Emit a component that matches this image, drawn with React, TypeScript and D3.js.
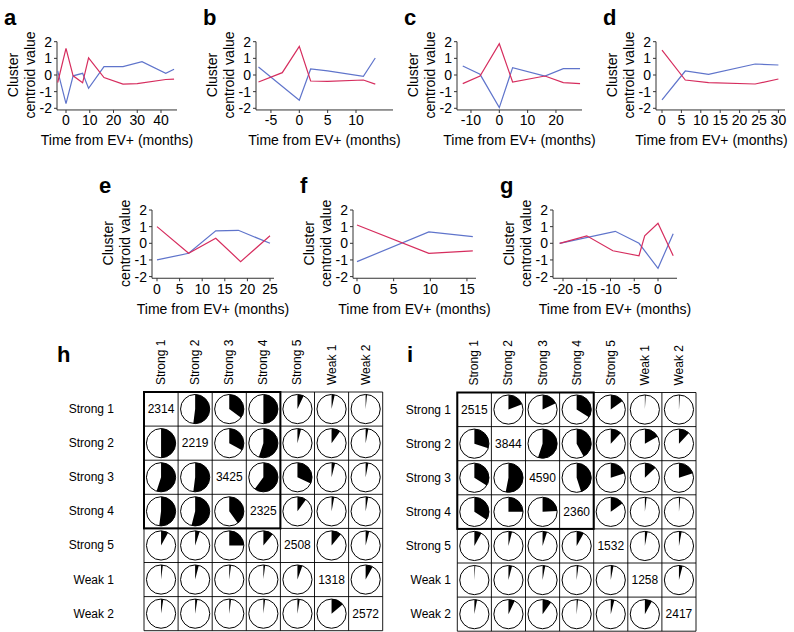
import React from 'react';
import * as d3 from 'd3';

type Pt = [number, number];

// ---- Line panel data: [time (months), cluster centroid value] ----
const aRed: Pt[] = [[-3.5, -0.45], [0, 1.6], [3, -0.05], [7, -0.47], [9.5, 1.03], [16, -0.15], [24, -0.55], [30, -0.52], [42, -0.27], [45.5, -0.25]];
const aBlue: Pt[] = [[-3.5, 0.25], [0, -1.72], [3, -0.05], [7, 0.1], [9.5, -0.8], [16, 0.5], [24, 0.5], [32, 0.8], [42, 0.1], [45.5, 0.35]];
const bRed: Pt[] = [[-7.2, -0.42], [-3, 0.14], [0, 1.72], [2, -0.36], [5, -0.38], [11.3, -0.3], [13.4, -0.55]];
const bBlue: Pt[] = [[-7.2, 0.48], [0, -1.52], [2, 0.36], [5, 0.25], [11.3, -0.08], [13.4, 1.02]];
const cRed: Pt[] = [[-12.9, -0.52], [-6.8, -0.06], [0, 1.88], [4.7, -0.42], [16.1, -0.06], [22.6, -0.46], [28.5, -0.52]];
const cBlue: Pt[] = [[-12.9, 0.54], [-6.8, 0.04], [0, -1.96], [4.7, 0.44], [16.1, -0.06], [22.6, 0.38], [28.5, 0.38]];
const dRed: Pt[] = [[0, 1.5], [6, -0.3], [12, -0.46], [24, -0.54], [30, -0.24]];
const dBlue: Pt[] = [[0, -1.5], [6, 0.24], [12, 0.04], [24, 0.66], [30, 0.6]];
const eRed: Pt[] = [[0, 1.0], [7, -0.6], [13, 0.3], [18.5, -1.1], [25, 0.45]];
const eBlue: Pt[] = [[0, -1.0], [7, -0.6], [13, 0.75], [18, 0.78], [25, 0.0]];
const fRed: Pt[] = [[0, 1.1], [9.8, -0.6], [15.8, -0.45]];
const fBlue: Pt[] = [[0, -1.1], [9.8, 0.68], [15.8, 0.4]];
const gRed: Pt[] = [[-20.7, 0], [-15, 0.45], [-9.5, -0.45], [-4, -0.75], [-2.8, 0.45], [0, 1.2], [3.2, -0.75]];
const gBlue: Pt[] = [[-20.7, 0], [-9, 0.72], [-4, 0], [0, -1.5], [3.2, 0.58]];

const yTicks = [-2, -1, 0, 1, 2];
const aTicks = [0, 10, 20, 30, 40];
const bTicks = [-5, 0, 5, 10];
const cTicks = [-10, 0, 10, 20];
const dTicks = [0, 5, 10, 15, 20, 25, 30];
const eTicks = [0, 5, 10, 15, 20, 25];
const fTicks = [0, 5, 10, 15];
const gTicks = [-20, -15, -10, -5, 0];

// ---- Matrix data ----
const clusterNames = ['Strong 1', 'Strong 2', 'Strong 3', 'Strong 4', 'Strong 5', 'Weak 1', 'Weak 2'];
const hCounts = [2314, 2219, 3425, 2325, 2508, 1318, 2572];
const iCounts = [2515, 3844, 4590, 2360, 1532, 1258, 2417];
const hShares: (number | null)[][] = [
  [null, 0.52, 0.35, 0.5, 0.07, 0.035, 0.015],
  [0.5, null, 0.33, 0.55, 0.04, 0.1, 0.03],
  [0.55, 0.52, null, 0.6, 0.32, 0.04, 0.03],
  [0.52, 0.54, 0.4, null, 0.1, 0.03, 0.028],
  [0.08, 0.05, 0.25, 0.11, null, 0.11, 0.04],
  [0.02, 0.04, 0.02, 0.02, 0.055, null, 0.08],
  [0.025, 0.025, 0.02, 0.02, 0.025, 0.14, null],
];
const iShares: (number | null)[][] = [
  [null, 0.19, 0.18, 0.34, 0.15, 0.01, 0.01],
  [0.3, null, 0.55, 0.42, 0.12, 0.17, 0.12],
  [0.34, 0.53, null, 0.45, 0.2, 0.13, 0.2],
  [0.34, 0.25, 0.24, null, 0.15, 0.02, 0.015],
  [0.08, 0.04, 0.05, 0.08, null, 0.03, 0.03],
  [0.01, 0.04, 0.03, 0.02, 0.03, null, 0.04],
  [0.03, 0.07, 0.1, 0.015, 0.04, 0.08, null],
];

const RED = '#d62d5e';
const BLUE = '#5f74cb';
const FONT = '"Liberation Sans", Arial, Helvetica, sans-serif';

interface PanelCfg {
  letter: string; red: Pt[]; blue: Pt[]; ticks: number[];
  axisX: number; right: number; zeroX: number; ppm: number; yTop: number; labelShift: number;
}

const ROW1 = 41.7;
const ROW2 = 210;

const panels: PanelCfg[] = [
  { letter: 'a', red: aRed, blue: aBlue, ticks: aTicks, axisX: 57, right: 177, zeroX: 66, ppm: 2.375, yTop: ROW1, labelShift: 0 },
  { letter: 'b', red: bRed, blue: bBlue, ticks: bTicks, axisX: 256, right: 393, zeroX: 299.3, ppm: 5.67, yTop: ROW1, labelShift: 0 },
  { letter: 'c', red: cRed, blue: cBlue, ticks: cTicks, axisX: 457, right: 582, zeroX: 499.3, ppm: 2.833, yTop: ROW1, labelShift: 0 },
  { letter: 'd', red: dRed, blue: dBlue, ticks: dTicks, axisX: 656, right: 785, zeroX: 662, ppm: 3.88, yTop: ROW1, labelShift: -9 },
  { letter: 'e', red: eRed, blue: eBlue, ticks: eTicks, axisX: 152, right: 274, zeroX: 157, ppm: 4.52, yTop: ROW2, labelShift: 0 },
  { letter: 'f', red: fRed, blue: fBlue, ticks: fTicks, axisX: 353, right: 476, zeroX: 357, ppm: 7.33, yTop: ROW2, labelShift: 0 },
  { letter: 'g', red: gRed, blue: gBlue, ticks: gTicks, axisX: 553, right: 677, zeroX: 658, ppm: 4.75, yTop: ROW2, labelShift: 0 },
];

function LinePanel({ p }: { p: PanelCfg }) {
  const t0 = (p.axisX - p.zeroX) / p.ppm;
  const t1 = (p.right - p.zeroX) / p.ppm;
  const x = d3.scaleLinear().domain([t0, t1]).range([p.axisX, p.right]);
  const y = d3.scaleLinear().domain([-2, 2]).range([p.yTop + 66.6, p.yTop]);
  const line = d3.line<Pt>().x(d => x(d[0])).y(d => y(d[1]));
  const baseY = y(-2.1);
  const y0 = y(0);
  return (
    <g fontFamily={FONT}>
      <text x={p.axisX - 53} y={p.yTop - 17} fontSize={22} fontWeight="bold">{p.letter}</text>
      <text transform={`translate(${p.axisX - 44},${y0}) rotate(-90)`} textAnchor="middle" dominantBaseline="central" fontSize={14}>Cluster</text>
      <text transform={`translate(${p.axisX - 27},${y0}) rotate(-90)`} textAnchor="middle" dominantBaseline="central" fontSize={14}>centroid value</text>
      <line x1={p.axisX} x2={p.axisX} y1={y(2)} y2={baseY} stroke="#333" strokeWidth={1} />
      <line x1={p.axisX} x2={p.right} y1={baseY} y2={baseY} stroke="#333" strokeWidth={1} />
      {yTicks.map(t => (
        <g key={'y' + t}>
          <line x1={p.axisX - 3} x2={p.axisX} y1={y(t)} y2={y(t)} stroke="#333" />
          <text x={p.axisX - 5} y={y(t)} textAnchor="end" dominantBaseline="central" fontSize={14}>{t}</text>
        </g>
      ))}
      {p.ticks.map(t => (
        <g key={'x' + t}>
          <line x1={x(t)} x2={x(t)} y1={baseY} y2={baseY + 3} stroke="#333" />
          <text x={x(t)} y={y(-2) + 12} textAnchor="middle" dominantBaseline="central" fontSize={14}>{t}</text>
        </g>
      ))}
      <text x={(p.axisX + p.right) / 2 + p.labelShift} y={y(-2) + 32} textAnchor="middle" dominantBaseline="central" fontSize={14}>Time from EV+ (months)</text>
      <path d={line(p.blue) || ''} fill="none" stroke={BLUE} strokeWidth={1.2} />
      <path d={line(p.red) || ''} fill="none" stroke={RED} strokeWidth={1.2} />
    </g>
  );
}

interface MatrixCfg { letter: string; letterX: number; left: number; top: number; shares: (number | null)[][]; counts: number[]; rowLabelX: number; }

const CELL = 34.1;

function Matrix({ m }: { m: MatrixCfg }) {
  const band = d3.scaleBand<number>().domain(d3.range(7)).range([0, CELL * 7]);
  const arc = d3.arc<any>().innerRadius(0).outerRadius(14.6);
  const W = CELL * 7;
  return (
    <g fontFamily={FONT}>
      <text x={m.letterX} y={362} fontSize={22} fontWeight="bold">{m.letter}</text>
      {clusterNames.map((n, j) => (
        <text key={'c' + n} transform={`translate(${m.left + (band(j) || 0) + CELL / 2},${m.top - 7}) rotate(-90)`} dominantBaseline="central" fontSize={12}>{n}</text>
      ))}
      {clusterNames.map((n, i) => (
        <text key={'r' + n} x={m.rowLabelX} y={m.top + (band(i) || 0) + CELL / 2} textAnchor="end" dominantBaseline="central" fontSize={12}>{n}</text>
      ))}
      {d3.range(8).map(k => (
        <g key={'g' + k}>
          <line x1={m.left + k * CELL} x2={m.left + k * CELL} y1={m.top} y2={m.top + W} stroke="#000" strokeWidth={0.9} />
          <line x1={m.left} x2={m.left + W} y1={m.top + k * CELL} y2={m.top + k * CELL} stroke="#000" strokeWidth={0.9} />
        </g>
      ))}
      <rect x={m.left} y={m.top} width={CELL * 4} height={CELL * 4} fill="none" stroke="#000" strokeWidth={2} />
      {m.shares.map((row, i) => row.map((v, j) => {
        const cx = m.left + (band(j) || 0) + CELL / 2;
        const cy = m.top + (band(i) || 0) + CELL / 2;
        if (v === null) {
          return <text key={i + '-' + j} x={cx} y={cy} textAnchor="middle" dominantBaseline="central" fontSize={12}>{m.counts[i]}</text>;
        }
        return (
          <g key={i + '-' + j} transform={`translate(${cx},${cy})`}>
            <circle r={14.6} fill="#fff" stroke="#000" strokeWidth={1} />
            <path d={arc({ startAngle: 0, endAngle: 2 * Math.PI * v }) || ''} fill="#000" />
          </g>
        );
      }))}
    </g>
  );
}

const matrices: MatrixCfg[] = [
  { letter: 'h', letterX: 57, left: 144, top: 392, shares: hShares, counts: hCounts, rowLabelX: 114 },
  { letter: 'i', letterX: 407, left: 457.3, top: 392.5, shares: iShares, counts: iCounts, rowLabelX: 451 },
];

export default function App() {
  return (
    <svg width={794} height={632} style={{ position: 'absolute', left: 0, top: 0, background: '#fff' }}>
      <rect width={794} height={632} fill="#fff" />
      {panels.map(p => <LinePanel key={p.letter} p={p} />)}
      {matrices.map(m => <Matrix key={m.letter} m={m} />)}
    </svg>
  );
}
